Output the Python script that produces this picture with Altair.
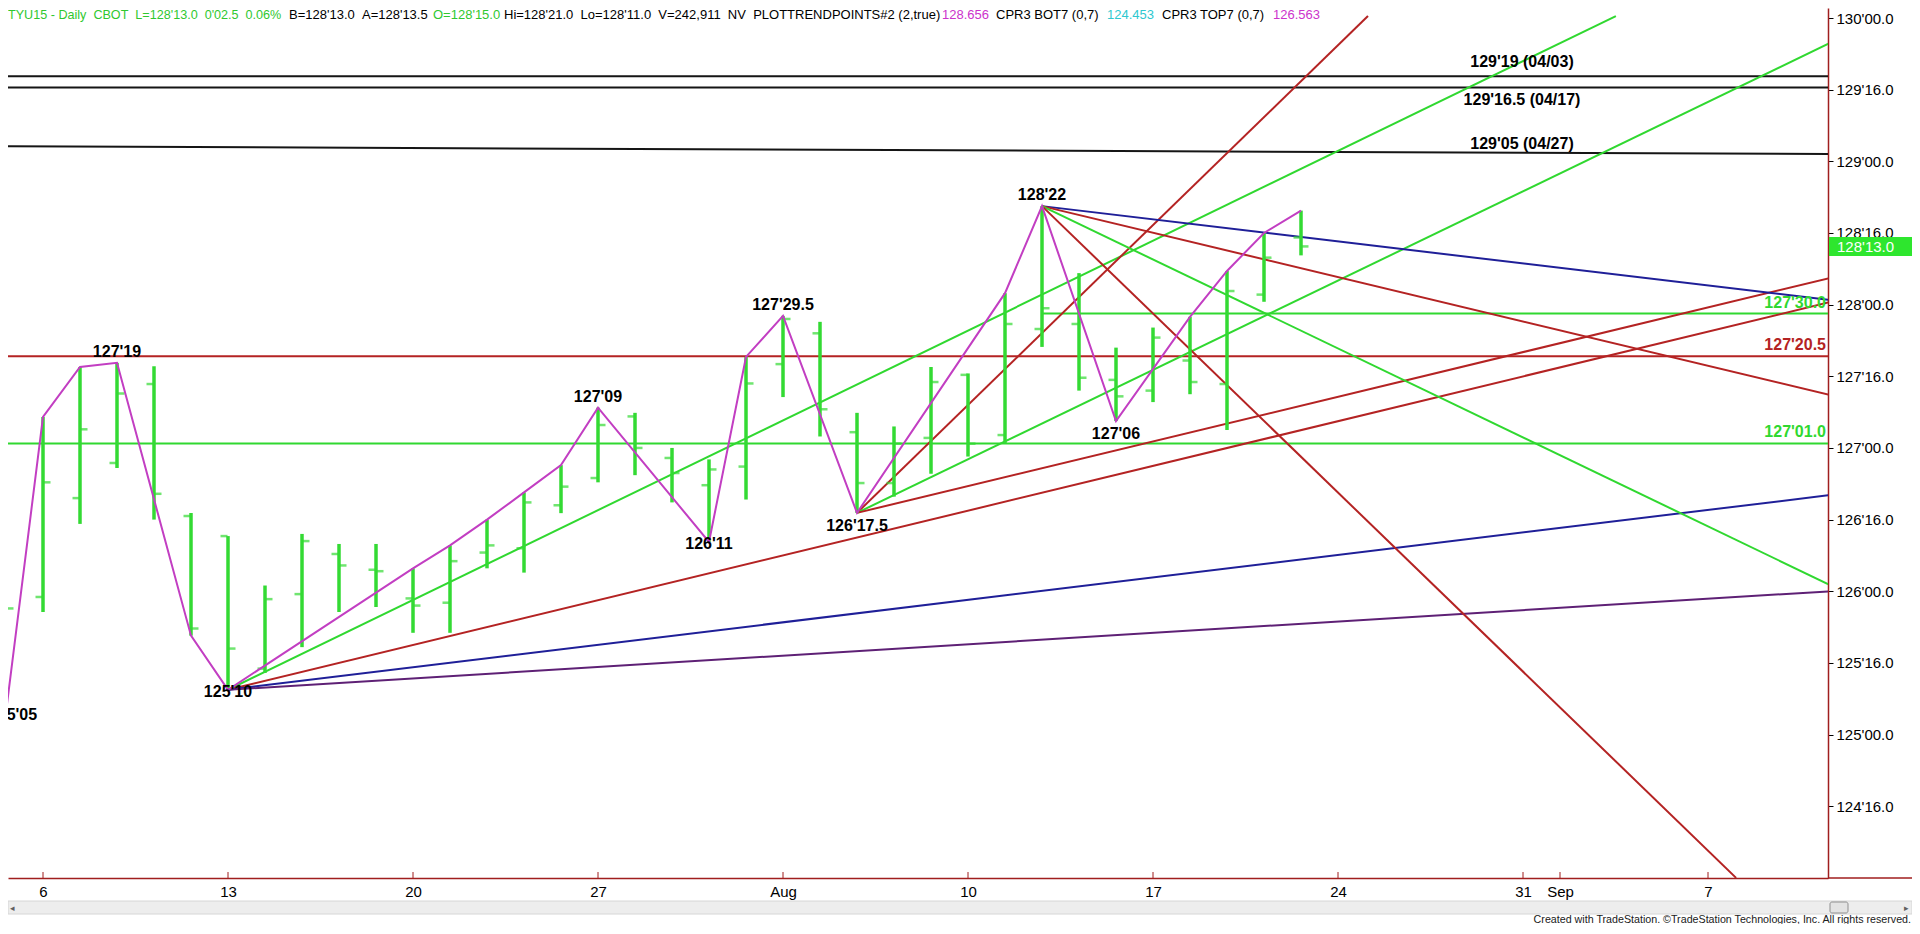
import json
import pandas as pd
import altair as alt

# ---------------- data ----------------
bar_dates = [
    "2015-07-03", "2015-07-06", "2015-07-07", "2015-07-08", "2015-07-09", "2015-07-10",
    "2015-07-13", "2015-07-14", "2015-07-15", "2015-07-16", "2015-07-17",
    "2015-07-20", "2015-07-21", "2015-07-22", "2015-07-23", "2015-07-24",
    "2015-07-27", "2015-07-28", "2015-07-29", "2015-07-30", "2015-07-31",
    "2015-08-03", "2015-08-04", "2015-08-05", "2015-08-06", "2015-08-07",
    "2015-08-10", "2015-08-11", "2015-08-12", "2015-08-13", "2015-08-14",
    "2015-08-17", "2015-08-18", "2015-08-19", "2015-08-20", "2015-08-21",
]
bar_open = [125.478, 125.96, 126.65, 126.895, 127.446, 126.525,
            126.385, 125.46, 125.98, 126.26, 126.15,
            125.95, 125.92, 126.27, 126.30, 126.60,
            126.79, 127.22, 126.93, 126.74, 126.87,
            127.585, 127.80, 127.11, 126.755, 127.07,
            127.51, 127.09, 127.83, 127.865, 127.475,
            127.40, 127.61, 127.446, 128.07, 128.46875]
bar_high = [126.127, 127.216, 127.565, 127.59375, 127.57, 126.546,
            126.385, 126.04, 126.40, 126.33, 126.33,
            126.16, 126.32, 126.50, 126.69, 126.88,
            127.28125, 127.245, 127.00, 126.92, 127.635,
            127.921875, 127.88, 127.245, 127.15, 127.565,
            127.52, 128.08, 128.6875, 128.22, 127.70,
            127.84, 127.915, 128.235, 128.50, 128.65625]
bar_low = [125.15625, 125.855, 126.47, 126.86, 126.50, 125.69,
           125.3125, 125.43, 125.61, 125.855, 125.89,
           125.71, 125.71, 126.16, 126.13, 126.545,
           126.76, 126.81, 126.62, 126.34375, 126.64,
           127.355, 127.08, 126.546875, 126.66, 126.82,
           126.94, 127.03, 127.705, 127.40, 127.1875,
           127.32, 127.375, 127.125, 128.02, 128.34375]
bar_close = [125.88, 126.76, 127.13, 127.38, 126.68, 125.74,
             125.60, 125.945, 126.35, 126.18, 126.14,
             125.90, 126.21, 126.32, 126.62, 126.73,
             127.16, 127.00, 126.825, 126.85, 127.45,
             127.90, 127.27, 126.755, 127.03, 127.46,
             127.03, 127.865, 127.975, 127.49, 127.36,
             127.77, 127.46, 128.095, 128.328, 128.40625]

# swing (trend point) zigzag: date + which extreme of that bar
zz_dates = ["2015-07-03", "2015-07-06", "2015-07-07", "2015-07-08", "2015-07-10", "2015-07-13",
            "2015-07-20", "2015-07-21", "2015-07-22", "2015-07-23", "2015-07-24", "2015-07-27",
            "2015-07-30", "2015-07-31", "2015-08-03", "2015-08-05", "2015-08-11", "2015-08-12",
            "2015-08-14", "2015-08-18", "2015-08-19", "2015-08-20", "2015-08-21"]
zz_side = ["L", "H", "H", "H", "L", "L", "H", "H", "H", "H", "H", "H",
           "L", "H", "H", "L", "H", "H", "L", "H", "H", "H", "H"]

# labelled swing points
swing_dates = ["2015-07-03", "2015-07-08", "2015-07-13", "2015-07-27", "2015-07-30",
               "2015-08-03", "2015-08-05", "2015-08-12", "2015-08-14"]
swing_side = ["L", "H", "L", "H", "L", "H", "L", "H", "L"]
swing_place = ["edge", "above", "near", "above", "near", "above", "below", "above", "below"]

# trendlines: anchor (date, price) -> end (trading days after 6 Jul, price)
trend_kind = ["green", "red", "blue", "purple", "red", "green", "red", "blue", "red", "green", "red"]
trend_from = ["2015-07-13"] * 4 + ["2015-08-05"] * 3 + ["2015-08-12"] * 4
trend_from_price = [125.3125] * 4 + [126.546875] * 3 + [128.6875] * 4
trend_to_day = [42.51, 48.3, 48.3, 48.3, 35.81, 48.3, 48.3, 48.3, 48.3, 48.3, 45.76]
trend_to_price = [130.014, 128.018, 126.671, 126.0, 130.014, 129.826, 128.186,
                  128.032, 127.369, 126.043, 124.0]

# horizontal levels
level_price = [127.640625, 127.03125]
level_kind = ["red", "green"]
partial_level_price = 127.9375
partial_level_from = "2015-08-12"

# black resistance lines
black_flat_price = [129.59375, 129.515625]
black_slope_from = ("2015-07-03", 129.105)
black_slope_to = (48.3, 129.051)
black_label_text = ["129'19 (04/03)", "129'16.5 (04/17)", "129'05 (04/27)"]
black_label_price = [129.59375, 129.515625, 129.15625]

# axes
tick_dates = ["2015-07-06", "2015-07-13", "2015-07-20", "2015-07-27", "2015-08-03",
              "2015-08-10", "2015-08-17", "2015-08-24", "2015-08-31", "2015-09-01", "2015-09-07"]
tick_labels = ["6", "13", "20", "27", "Aug", "10", "17", "24", "31", "Sep", "7"]
y_ticks = [124.5, 125.0, 125.5, 126.0, 126.5, 127.0, 127.5, 128.0, 128.5, 129.0, 129.5, 130.0]

# ---------------- helpers ----------------
cal = pd.bdate_range("2015-07-03", "2015-09-11")
day_pos = {d.strftime("%Y-%m-%d"): i - 1 for i, d in enumerate(cal)}


def fmt32(p, decimals=True):
    whole = int(p)
    t = (p - whole) * 32
    if decimals:
        return f"{whole}'{t:04.1f}"
    if abs(t - round(t)) < 1e-6:
        return f"{whole}'{int(round(t)):02d}"
    return f"{whole}'{t:04.1f}"


GREEN = "#33DA33"
LINE_GREEN = "#30D830"
RED = "#B42323"
BLUE = "#1F1F98"
PURPLE = "#5E2075"
MAGENTA = "#C23EC2"
BLACK = "#151515"
AXIS_RED = "#A01E1E"
CYAN = "#2EC8D0"
ARIAL = "Liberation Sans, Arial, sans-serif"

W, H = 1820, 870
xs = alt.Scale(domain=[-0.946, 48.243], nice=False, zero=False)
ys = alt.Scale(domain=[123.999, 130.070], nice=False, zero=False)
color_scale = alt.Scale(domain=["green", "red", "blue", "purple"],
                        range=[LINE_GREEN, RED, BLUE, PURPLE])

tick_pos = [day_pos[d] for d in tick_dates]
x_label_expr = f"{json.dumps(tick_labels)}[indexof({json.dumps(tick_pos)}, datum.value)]"
y_label_expr = "floor(datum.value) + \"'\" + ((datum.value - floor(datum.value)) < 0.25 ? '00.0' : '16.0')"

x_axis = alt.Axis(values=tick_pos, labelExpr=x_label_expr, title=None, grid=False,
                  domainColor=AXIS_RED, domainWidth=1.5, ticks=False,
                  labelFont=ARIAL, labelFontSize=15, labelColor="black", labelPadding=6,
                  labelOverlap=False, labelFlush=False)
y_axis = alt.Axis(orient="right", values=y_ticks, labelExpr=y_label_expr, title=None, grid=False,
                  domainColor=AXIS_RED, domainWidth=1.5, tickColor="black", tickSize=5,
                  labelFont=ARIAL, labelFontSize=15, labelColor="black", labelPadding=3,
                  labelOverlap=False, labelFlush=False)

# ---------------- tables ----------------
bars = pd.DataFrame({
    "x": [day_pos[d] for d in bar_dates],
    "o": bar_open, "h": bar_high, "l": bar_low, "c": bar_close,
})
hi_map = dict(zip(bar_dates, bar_high))
lo_map = dict(zip(bar_dates, bar_low))

zz = pd.DataFrame({
    "x": [day_pos[d] for d in zz_dates],
    "p": [hi_map[d] if s == "H" else lo_map[d] for d, s in zip(zz_dates, zz_side)],
})
swings = pd.DataFrame({
    "x": [day_pos[d] for d in swing_dates],
    "p": [hi_map[d] if s == "H" else lo_map[d] for d, s in zip(swing_dates, swing_side)],
    "place": swing_place,
})
swings["t"] = [fmt32(p, decimals=False) for p in swings["p"]]

trends = pd.DataFrame({
    "x1": [day_pos[d] for d in trend_from], "p1": trend_from_price,
    "x2": trend_to_day, "p2": trend_to_price, "kind": trend_kind,
})
levels = pd.DataFrame({"p": level_price, "kind": level_kind})
levels["t"] = [fmt32(p) for p in levels["p"]]
partial = pd.DataFrame({"x1": [day_pos[partial_level_from]], "x2": [48.3],
                        "p": [partial_level_price], "kind": ["green"],
                        "t": [fmt32(partial_level_price)]})
black_flat = pd.DataFrame({"p": black_flat_price})
black_slope = pd.DataFrame({"x1": [day_pos[black_slope_from[0]]], "p1": [black_slope_from[1]],
                            "x2": [black_slope_to[0]], "p2": [black_slope_to[1]]})
last = pd.DataFrame({"p": [bar_close[-1]], "t": [fmt32(bar_close[-1])]})
xticks = pd.DataFrame({"x": tick_pos})
one = pd.DataFrame({"a": [0]})

# ---------------- layers ----------------
X = lambda f: alt.X(f, scale=xs, axis=x_axis)
Y = lambda f: alt.Y(f, scale=ys, axis=y_axis)

l_black_flat = alt.Chart(black_flat).mark_rule(color=BLACK, strokeWidth=2).encode(y=Y("p:Q"))
l_black_slope = alt.Chart(black_slope).mark_rule(color=BLACK, strokeWidth=2, clip=True).encode(
    x=X("x1:Q"), x2="x2:Q", y=Y("p1:Q"), y2="p2:Q")
l_levels = alt.Chart(levels).mark_rule(strokeWidth=2).encode(
    y=Y("p:Q"), color=alt.Color("kind:N", scale=color_scale, legend=None))
l_partial = alt.Chart(partial).mark_rule(strokeWidth=2, clip=True).encode(
    x=X("x1:Q"), x2="x2:Q", y=Y("p:Q"), color=alt.Color("kind:N", scale=color_scale, legend=None))
l_trends = alt.Chart(trends).mark_rule(strokeWidth=2, clip=True).encode(
    x=X("x1:Q"), x2="x2:Q", y=Y("p1:Q"), y2="p2:Q",
    color=alt.Color("kind:N", scale=color_scale, legend=None))

l_bars = alt.Chart(bars).mark_rule(color=GREEN, strokeWidth=3.5, clip=True).encode(
    x=X("x:Q"), y=Y("l:Q"), y2="h:Q")
l_open = alt.Chart(bars).mark_tick(color=GREEN, orient="horizontal", size=7, thickness=2.5,
                                   xOffset=-4, clip=True).encode(x=X("x:Q"), y=Y("o:Q"))
l_close = alt.Chart(bars).mark_tick(color=GREEN, orient="horizontal", size=7, thickness=2.5,
                                    xOffset=4, clip=True).encode(x=X("x:Q"), y=Y("c:Q"))
l_zz = alt.Chart(zz).mark_line(color=MAGENTA, strokeWidth=2, clip=True).encode(
    x=X("x:Q"), y=Y("p:Q"), order="x:Q")

# date ticks pointing up from the time axis
l_xticks = alt.Chart(xticks).mark_rule(color=AXIS_RED, strokeWidth=1).encode(
    x=X("x:Q"), y=alt.value(864), y2=alt.value(870))

lab_style = dict(font=ARIAL, fontSize=16, fontWeight="bold", color="black", clip=True)
l_sw_above = alt.Chart(swings).transform_filter("datum.place == 'above'").mark_text(
    dy=-11, **lab_style).encode(x=X("x:Q"), y=Y("p:Q"), text="t:N")
l_sw_below = alt.Chart(swings).transform_filter("datum.place == 'below'").mark_text(
    dy=13, **lab_style).encode(x=X("x:Q"), y=Y("p:Q"), text="t:N")
l_sw_near = alt.Chart(swings).transform_filter("datum.place == 'near'").mark_text(
    dy=2, **lab_style).encode(x=X("x:Q"), y=Y("p:Q"), text="t:N")
l_sw_edge = alt.Chart(swings).transform_filter("datum.place == 'edge'").mark_text(
    dy=3, dx=7, **lab_style).encode(x=X("x:Q"), y=Y("p:Q"), text="t:N")

lvl_style = dict(font=ARIAL, fontSize=16, fontWeight="bold", align="right", dy=-11)
l_level_txt = alt.Chart(levels).mark_text(**lvl_style).encode(
    x=alt.value(1818), y=Y("p:Q"), text="t:N",
    color=alt.Color("kind:N", scale=color_scale, legend=None))
l_partial_txt = alt.Chart(partial).mark_text(**lvl_style).encode(
    x=alt.value(1818), y=Y("p:Q"), text="t:N",
    color=alt.Color("kind:N", scale=color_scale, legend=None))

black_txt_layers = []
for txt, p, dy in zip(black_label_text, black_label_price, [-14, 13, 5]):
    black_txt_layers.append(
        alt.Chart(pd.DataFrame({"p": [p], "t": [txt]})).mark_text(
            font=ARIAL, fontSize=16, fontWeight="bold", color="black", dy=dy).encode(
            x=alt.value(1514), y=Y("p:Q"), text="t:N"))

# last price marker on the price axis
l_last_box = alt.Chart(last).mark_rule(color="#2EE62E", strokeWidth=19).encode(
    x=alt.value(1821), x2=alt.value(1906), y=Y("p:Q"))
l_last_txt = alt.Chart(last).mark_text(font=ARIAL, fontSize=15, color="white", align="left",
                                       dy=1).encode(x=alt.value(1829), y=Y("p:Q"), text="t:N")
l_axis_ext = alt.Chart(one).mark_rule(color=AXIS_RED, strokeWidth=1.5).encode(
    x=alt.value(1820), x2=alt.value(1904), y=alt.value(870))

# header
NB2 = "\u00a0\u00a0"
header_pieces = [
    (f"TYU15 - Daily{NB2}CBOT{NB2}L=128'13.0{NB2}0'02.5{NB2}0.06%", "#2FC82F", 0, 12.6),
    (f"B=128'13.0{NB2}A=128'13.5", "black", 281, 13),
    ("O=128'15.0", "#2FC82F", 425, 13),
    (f"Hi=128'21.0{NB2}Lo=128'11.0{NB2}V=242,911{NB2}NV{NB2}PLOTTRENDPOINTS#2 (2,true)", "black", 496, 13),
    ("128.656", "#CC33CC", 934, 13),
    ("CPR3 BOT7 (0,7)", "black", 988, 13),
    ("124.453", CYAN, 1099, 13),
    ("CPR3 TOP7 (0,7)", "black", 1154, 13),
    ("126.563", "#CC33CC", 1265, 13),
]
header_layers = [
    alt.Chart(one).mark_text(font=ARIAL, fontSize=fs, color=c, align="left", baseline="top",
                             text=t).encode(x=alt.value(px), y=alt.value(1))
    for t, c, px, fs in header_pieces
]

# scrollbar + footer
l_scroll = alt.Chart(one).mark_rect(fill="#EDEDED", stroke="#D6D6D6").encode(
    x=alt.value(0), x2=alt.value(1904), y=alt.value(893), y2=alt.value(906))
l_thumb = alt.Chart(one).mark_rect(fill="#E3E3E3", stroke="#8F8F8F", cornerRadius=2).encode(
    x=alt.value(1822), x2=alt.value(1840), y=alt.value(894), y2=alt.value(905))
l_arrow_l = alt.Chart(one).mark_text(text="\u25c2", fontSize=9, color="#606060").encode(
    x=alt.value(4), y=alt.value(900))
l_arrow_r = alt.Chart(one).mark_text(text="\u25b8", fontSize=9, color="#606060").encode(
    x=alt.value(1898), y=alt.value(900))
l_copy = alt.Chart(one).mark_text(
    text="Created with TradeStation. \u00a9TradeStation Technologies, Inc. All rights reserved.",
    font=ARIAL, fontSize=10.7, color="#202020", align="right").encode(
    x=alt.value(1903), y=alt.value(912))

chart = alt.layer(
    l_black_flat, l_black_slope, l_levels, l_partial, l_trends,
    l_bars, l_open, l_close, l_zz, l_xticks,
    l_sw_above, l_sw_below, l_sw_near, l_sw_edge, l_level_txt, l_partial_txt, *black_txt_layers,
    l_last_box, l_last_txt, l_axis_ext, *header_layers,
    l_scroll, l_thumb, l_arrow_l, l_arrow_r, l_copy,
).properties(
    width=W, height=H,
    autosize=alt.AutoSizeParams(type="none"),
    padding={"left": 0, "top": 0, "right": 84, "bottom": 46},
    background="white",
).configure_view(strokeWidth=0)

chart.save("out.html", embed_options={"renderer": "svg", "actions": False})
